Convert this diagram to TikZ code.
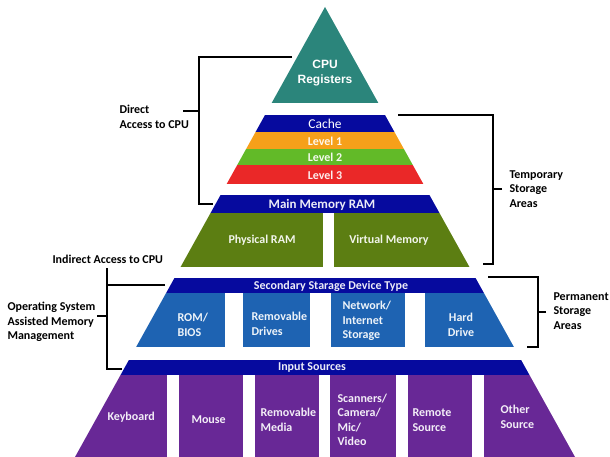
\documentclass[tikz,border=0pt]{standalone}
\usepackage{fontspec}
\setmainfont{Carlito}
\newfontfamily\arialfont{Liberation Sans}
\usetikzlibrary{arrows}
\definecolor{T}{RGB}{43,133,123}
\definecolor{DB}{RGB}{6,10,158}
\definecolor{O}{RGB}{246,160,26}
\definecolor{LG}{RGB}{98,186,40}
\definecolor{R}{RGB}{234,40,40}
\definecolor{OG}{RGB}{92,126,18}
\definecolor{B}{RGB}{30,99,178}
\definecolor{P}{RGB}{104,40,150}

\tikzset{
  lbl/.style={font=\bfseries\fontsize{12}{14.5}\selectfont, align=left, anchor=west},
  txt/.style={font=\bfseries\fontsize{12}{14.5}\selectfont, align=left, text=white!92!#1},
  brk/.style={black, line width=1.5pt}
}

\begin{document}
\begin{tikzpicture}[x=1pt,y=-1pt]
  \useasboundingbox[fill=white] (0,0) rectangle (610,457);
  \begin{scope}
    \clip (325,7) -- (575,457) -- (75,457) -- cycle;
    \fill[T] (0,0) rectangle (610,103);
    \fill[DB] (0,115) rectangle (610,132);
    \fill[O] (0,132) rectangle (610,149);
    \fill[LG] (0,149) rectangle (610,165);
    \fill[R] (0,165) rectangle (610,184);
    \fill[DB] (0,195) rectangle (610,213);
    \fill[OG] (0,213) rectangle (323,267);
    \fill[OG] (334,213) rectangle (610,267);
    \fill[DB] (0,278) rectangle (610,293);
    \fill[B] (0,293) rectangle (225,347);
    \fill[B] (243,293) rectangle (310,347);
    \fill[B] (331,293) rectangle (405,347);
    \fill[B] (425,293) rectangle (610,347);
    \fill[DB] (0,360) rectangle (610,375);
    \fill[P] (0,375) rectangle (167,457);
    \fill[P] (179,375) rectangle (243,457);
    \fill[P] (255,375) rectangle (319,457);
    \fill[P] (330,375) rectangle (396,457);
    \fill[P] (408,375) rectangle (472,457);
    \fill[P] (484,375) rectangle (610,457);
  \end{scope}

  \node[text=white, align=center, font=\arialfont\bfseries\fontsize{12}{15}\selectfont] (cpu) at (325,73) {CPU\\Registers};
  \node[text=white, font=\fontsize{13.5}{15}\selectfont] (cache) at (325,124) {Cache};
  \node[txt=O] (l1) at (325,141) {Level 1};
  \node[txt=LG] (l2) at (325,157) {Level 2};
  \node[txt=R] (l3) at (325,175) {Level 3};
  \node[txt=DB, font=\bfseries\fontsize{13}{15}\selectfont] (ram) at (322,205) {Main Memory RAM};
  \node[txt=OG] (phys) at (262,240) {Physical RAM};
  \node[txt=OG] (virt) at (389,240) {Virtual Memory};
  \node[txt=DB] (sec) at (331,286) {Secondary Starage Device Type};
  \node[txt=B, anchor=west] (rom) at (174,325) {ROM/\\BIOS};
  \node[txt=B, anchor=west] (remd) at (248,324) {Removable\\Drives};
  \node[txt=B, anchor=west] (net) at (339,321) {Network/\\Internet\\Storage};
  \node[txt=B, align=center] (hard) at (461,325) {Hard\\Drive};
  \node[txt=DB] (inp) at (312,368) {Input Sources};
  \node[txt=P, anchor=west] (key) at (104,417) {Keyboard};
  \node[txt=P, anchor=west] (mouse) at (188,420) {Mouse};
  \node[txt=P, anchor=west] (remm) at (257,420) {Removable\\Media};
  \node[txt=P, anchor=west] (scan) at (334,420) {Scanners/\\Camera/\\Mic/\\Video};
  \node[txt=P, anchor=west] (remote) at (409,420) {Remote\\Source};
  \node[txt=P, anchor=west] (other) at (497,417) {Other\\Source};

  \node[lbl] (direct) at (116,117) {Direct\\Access to CPU};
  \node[lbl] (indirect) at (49,259) {Indirect Access to CPU};
  \node[lbl] (os) at (4,322) {Operating System\\Assisted Memory\\Management};
  \node[lbl] (temp) at (506,189) {Temporary\\Storage\\Areas};
  \node[lbl] (perm) at (550,311) {Permanent\\Storage\\Areas};

  \coordinate (d1) at (292,57);
  \coordinate (d2) at (213,204);
  \coordinate (d3) at (183,111);
  \draw[brk] (d1) -- (d1 -| 199,0) -- (199,204) -- (d2);
  \draw[brk] (d3) -- (d3 -| 199,0);
  \coordinate (i1) at (165,285);
  \coordinate (i2) at (122,369);
  \coordinate (i3) at (97,316);
  \draw[brk] (107,268) -- (107,369) -- (i2);
  \draw[brk] (i1) -- (i1 -| 107,0);
  \draw[brk] (i3) -- (i3 -| 107,0);
  \coordinate (t1) at (398,115);
  \coordinate (t2) at (483,264);
  \coordinate (t3) at (502,189);
  \draw[brk] (t1) -- (t1 -| 493,0) -- (493,264) -- (t2);
  \draw[brk] (t3) -- (t3 -| 493,0);
  \coordinate (p1) at (488,277);
  \coordinate (p2) at (527,347);
  \coordinate (p3) at (546,312);
  \draw[brk] (p1) -- (p1 -| 538,0) -- (538,347) -- (p2);
  \draw[brk] (p3) -- (p3 -| 538,0);
\end{tikzpicture}
\end{document}
